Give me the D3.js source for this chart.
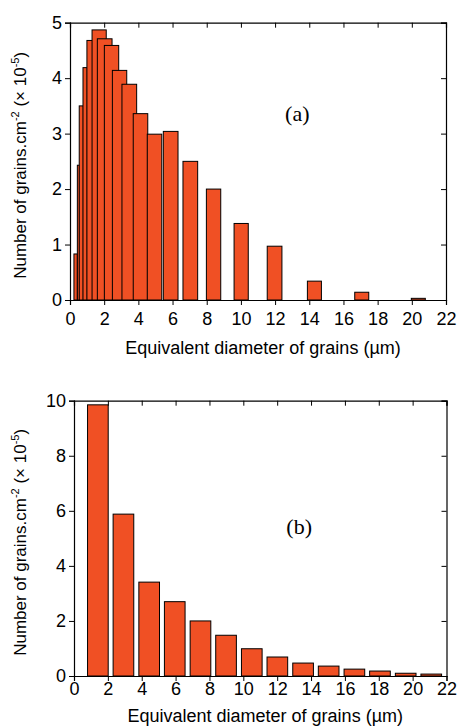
<!DOCTYPE html>
<html>
<head>
<meta charset="UTF-8">
<title>grain size histograms</title>
<script src="https://d3js.org/d3.v7.min.js"></script>
<style>
body { margin: 0; background: #fff; }
svg text { font-family: "Liberation Sans", Arial, sans-serif; }
.panel-tag { font-family: "Liberation Serif", "Times New Roman", serif; }
</style>
</head>
<body>
<div id="chart"></div>
<script>
// panel (a): bin edges (um) and counts (x1e5 grains/cm2), overlapping bins
var binStartA = [0.23, 0.43, 0.54, 0.76, 0.99, 1.29, 1.60, 2.01, 2.48, 3.04, 3.70, 4.52, 5.46, 6.61, 7.98, 9.60, 11.54, 13.89, 16.66, 19.97];
var binEndA   = [0.43, 0.58, 0.78, 1.01, 1.33, 2.12, 2.46, 2.85, 3.32, 3.90, 4.55, 5.37, 6.32, 7.47, 8.82, 10.43, 12.40, 14.71, 17.48, 20.79];
var countA    = [0.83, 2.43, 3.50, 4.19, 4.68, 4.87, 4.71, 4.59, 4.14, 3.89, 3.36, 2.99, 3.04, 2.50, 2.00, 1.38, 0.97, 0.34, 0.14, 0.03];

// panel (b): bin centres (um) and counts
var binCenterB = [1.41, 2.92, 4.44, 5.95, 7.47, 8.98, 10.50, 12.01, 13.53, 15.04, 16.56, 18.07, 19.59, 21.10];
var countB     = [9.85, 5.88, 3.41, 2.70, 2.00, 1.48, 0.99, 0.69, 0.47, 0.36, 0.25, 0.18, 0.10, 0.07];
var binWidthB = 1.22;

var xTicks = [0, 2, 4, 6, 8, 10, 12, 14, 16, 18, 20, 22];
var yTicksA = [0, 1, 2, 3, 4, 5];
var yTicksB = [0, 2, 4, 6, 8, 10];

var barFill = "#f05024";

var svg = d3.select("#chart").append("svg")
  .attr("width", 457)
  .attr("height", 727);

function drawPanel(p) {
  var x = d3.scaleLinear().domain([0, 22]).range([p.left, p.right]);
  var y = d3.scaleLinear().domain([0, p.yMax]).range([p.bottom, p.top]);
  var g = svg.append("g");

  // bars, later ones on top
  g.selectAll("rect.bar")
    .data(p.bars)
    .enter()
    .append("rect")
    .attr("class", "bar")
    .attr("x", function(d){ return x(d.x0); })
    .attr("width", function(d){ return x(d.x1) - x(d.x0); })
    .attr("y", function(d){ return y(d.v); })
    .attr("height", function(d){ return y(0) - y(d.v); })
    .style("fill", barFill)
    .style("stroke", "#000")
    .style("stroke-width", 1);

  var xMinor = d3.range(0, 23, 1);
  var yMinor = d3.range(0, p.yMax + 1e-9, p.yMinorStep);

  // bottom + left: ticks out
  var bot = g.append("g").attr("transform", "translate(0," + p.bottom + ")");
  bot.call(d3.axisBottom(x).tickValues(xMinor).tickSize(3).tickFormat(""));
  bot.call(d3.axisBottom(x).tickValues(xTicks).tickSize(5).tickPadding(p.xPad).tickFormat(d3.format("d")));
  var lef = g.append("g").attr("transform", "translate(" + p.left + ",0)");
  lef.call(d3.axisLeft(y).tickValues(yMinor).tickSize(3).tickFormat(""));
  lef.call(d3.axisLeft(y).tickValues(p.yTicks).tickSize(5).tickPadding(3).tickFormat(d3.format("d")));
  // top + right mirrors: ticks in
  var top = g.append("g").attr("transform", "translate(0," + p.top + ")");
  top.call(d3.axisTop(x).tickValues(xMinor).tickSize(-3).tickFormat(""));
  top.call(d3.axisTop(x).tickValues(xTicks).tickSize(-5).tickFormat(""));
  var rig = g.append("g").attr("transform", "translate(" + p.right + ",0)");
  rig.call(d3.axisRight(y).tickValues(yMinor).tickSize(-3).tickFormat(""));
  rig.call(d3.axisRight(y).tickValues(p.yTicks).tickSize(-5).tickFormat(""));

  g.selectAll(".domain").attr("stroke", "#000").attr("stroke-width", 1.2);
  g.selectAll(".tick line").attr("stroke", "#000");
  g.selectAll(".tick text")
    .style("font-family", "'Liberation Sans', Arial, sans-serif")
    .style("font-size", "18px")
    .attr("fill", "#000");

  // x title
  g.append("text")
    .attr("x", (p.left + p.right) / 2 + 5)
    .attr("y", p.xTitleY)
    .attr("text-anchor", "middle")
    .style("font-size", "18px")
    .text("Equivalent diameter of grains (\u00b5m)");

  // y title
  var yt = g.append("text")
    .attr("transform", "translate(26," + ((p.top + p.bottom) / 2 + 4) + ") rotate(-90)")
    .attr("text-anchor", "middle")
    .style("font-size", "17px");
  yt.append("tspan").text("Number of grains.cm");
  yt.append("tspan").attr("dy", -7).style("font-size", "11px").text("-2");
  yt.append("tspan").attr("dy", 7).text(" (\u00d7 10");
  yt.append("tspan").attr("dy", -7).style("font-size", "11px").text("-5");
  yt.append("tspan").attr("dy", 7).text(")");

  // panel tag
  g.append("text")
    .attr("class", "panel-tag")
    .attr("x", x(13.3))
    .attr("y", y(p.tagY))
    .attr("text-anchor", "middle")
    .style("font-size", "22px")
    .text(p.tag);
}

var barsA = countA.map(function(v, i){ return { x0: binStartA[i], x1: binEndA[i], v: v }; });
var barsB = countB.map(function(v, i){
  return { x0: binCenterB[i] - binWidthB / 2, x1: binCenterB[i] + binWidthB / 2, v: v };
});

drawPanel({ left: 70, right: 446, top: 22.7, bottom: 300, yMax: 5, yTicks: yTicksA,
            yMinorStep: 0.25, bars: barsA, tag: "(a)", tagY: 3.22, xPad: 7, xTitleY: 354 });
drawPanel({ left: 74, right: 446.5, top: 400.7, bottom: 676, yMax: 10, yTicks: yTicksB,
            yMinorStep: 0.5, bars: barsB, tag: "(b)", tagY: 5.16, xPad: 1, xTitleY: 722 });
</script>
</body>
</html>
